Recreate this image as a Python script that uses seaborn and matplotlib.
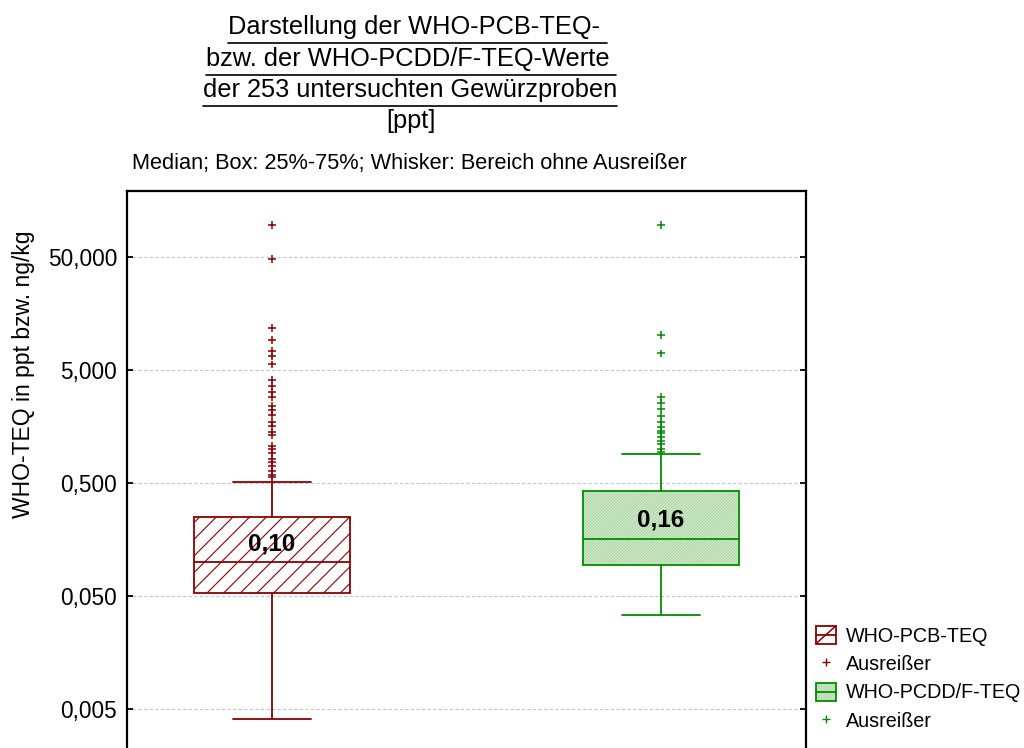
import numpy as np
import pandas as pd
import matplotlib
matplotlib.use("Agg")
import matplotlib.pyplot as plt
import matplotlib.colors as mcolors
from matplotlib.lines import Line2D
from matplotlib.patches import Rectangle
from matplotlib.legend_handler import HandlerBase
from matplotlib.ticker import FixedLocator, FuncFormatter, NullLocator
import seaborn as sns

# ---- data -----------------------------------------------------------------
groups = ["WHO-PCB-TEQ", "WHO-PCDD/F-TEQ"]
medians = [0.10, 0.16]
q1 = [0.053, 0.094]
q3 = [0.25, 0.425]
whisker_low = [0.0041, 0.034]
whisker_high = [0.51, 0.90]
outliers_pcb = [96.6, 48.0, 11.7, 9.2, 7.4, 6.6, 5.6, 4.1, 3.6, 3.2, 2.9, 2.4,
                2.2, 2.0, 1.72, 1.59, 1.40, 1.33, 1.06, 0.99, 0.92, 0.82, 0.76,
                0.70, 0.64, 0.59, 0.56]
outliers_pcdd = [96.6, 10.2, 7.0, 2.9, 2.57, 2.24, 1.96, 1.74, 1.57, 1.45,
                 1.38, 1.27, 1.18, 1.11, 1.01, 0.95]
y_ticks = [0.005, 0.05, 0.5, 5, 50]

title_lines = ["Darstellung der WHO-PCB-TEQ- ",
               "bzw. der WHO-PCDD/F-TEQ-Werte ",
               "der 253 untersuchten Gewürzproben"]
unit_line = "[ppt]"
subtitle = "Median; Box: 25%-75%; Whisker: Bereich ohne Ausreißer"
y_label = "WHO-TEQ in ppt bzw. ng/kg"
outlier_label = "Ausreißer"

# ---- style ----------------------------------------------------------------
RED = "#8c0000"
GREEN = "#008c00"
GREEN_FACE = "#d8eed4"
GREEN_HATCH = "#a9d4a1"

sns.set_theme(style="white")
plt.rcParams["font.family"] = ["Liberation Sans", "DejaVu Sans"]
plt.rcParams["text.color"] = "black"
plt.rcParams["axes.labelcolor"] = "black"
plt.rcParams["hatch.linewidth"] = 0.8

W, H = 1024, 748
fig = plt.figure(figsize=(W / 100, H / 100), dpi=100)
fig.patch.set_facecolor("white")

# axes frame in pixels: left 127, right 806, top 191, bottom 770 (below the canvas)
ax = fig.add_axes([127 / W, (H - 770) / H, (806 - 127) / W, (770 - 191) / H])
ax.set_facecolor("white")
ax.set_yscale("log")

# ---- boxes ------------------------------------------------------------------
stats = [
    {"med": m, "q1": a, "q3": b, "whislo": lo, "whishi": hi, "fliers": [],
     "label": g}
    for g, m, a, b, lo, hi in zip(groups, medians, q1, q3, whisker_low, whisker_high)
]
positions = np.arange(len(groups))
bp = ax.bxp(stats, positions=positions, widths=0.40, capwidths=0.20,
            patch_artist=True, showfliers=False, manage_ticks=False,
            boxprops=dict(linewidth=1.3),
            medianprops=dict(linewidth=1.3),
            whiskerprops=dict(linewidth=1.3),
            capprops=dict(linewidth=1.3))

edge_colors = [RED, GREEN]
face_colors = ["white", GREEN_FACE]
hatches = ["//", "/" * 11]
hatch_colors = [RED, GREEN_HATCH]
for i, box in enumerate(bp["boxes"]):
    box.set_facecolor(face_colors[i])
    box.set_edgecolor(edge_colors[i])
    box.set_hatch(hatches[i])
    if hasattr(box, "set_hatchcolor"):
        box.set_hatchcolor(hatch_colors[i])
    else:
        box._hatch_color = mcolors.to_rgba(hatch_colors[i])
    bp["medians"][i].set_color(edge_colors[i])
    for ln in bp["whiskers"][2 * i:2 * i + 2] + bp["caps"][2 * i:2 * i + 2]:
        ln.set_color(edge_colors[i])

# ---- outliers ---------------------------------------------------------------
fliers = pd.DataFrame({
    "Gruppe": [groups[0]] * len(outliers_pcb) + [groups[1]] * len(outliers_pcdd),
    "Wert": outliers_pcb + outliers_pcdd,
})
sns.stripplot(data=fliers, x="Gruppe", y="Wert", hue="Gruppe", order=groups,
              hue_order=groups, palette=edge_colors, marker="+", size=5.5,
              linewidth=1.1, jitter=False, legend=False, ax=ax, zorder=3)

# ---- median labels ------------------------------------------------------------
for pos, m in zip(positions, medians):
    ax.annotate(f"{m:.2f}".replace(".", ","), xy=(pos, m), xytext=(0, 5),
                textcoords="offset points", ha="center", va="bottom",
                fontsize=17.5, fontweight="bold", color="black", zorder=4)

# ---- axes -------------------------------------------------------------------
ax.set_xlim(-0.373, 1.373)
ax.set_ylim(0.001443, 191.9)
ax.set_xticks([])
ax.set_xlabel("")
ax.yaxis.set_major_locator(FixedLocator(y_ticks))
ax.yaxis.set_minor_locator(NullLocator())
ax.yaxis.set_major_formatter(FuncFormatter(lambda v, p: f"{v:.3f}".replace(".", ",")))
ax.tick_params(axis="y", direction="in", length=4, width=1.3, left=True,
               right=True, labelsize=16.3, pad=7, colors="black")
ax.yaxis.grid(True, color="#c4c4c4", linestyle=(0, (3, 2)), linewidth=0.8)
ax.xaxis.grid(False)
ax.set_axisbelow(True)
for sp in ax.spines.values():
    sp.set_visible(True)
    sp.set_color("black")
    sp.set_linewidth(1.6)

ax.set_ylabel(y_label, fontsize=16.5, color="black")
ax.yaxis.set_label_coords(-0.136, (770 - 374) / 579)


# ---- legend -------------------------------------------------------------------
class BoxKey:
    def __init__(self, face, edge, hatch, hatch_color, diagonal):
        self.face, self.edge, self.hatch = face, edge, hatch
        self.hatch_color, self.diagonal = hatch_color, diagonal


class BoxKeyHandler(HandlerBase):
    def create_artists(self, legend, orig, xdescent, ydescent, width, height,
                       fontsize, trans):
        x0, y0 = -xdescent, -ydescent
        rect = Rectangle((x0, y0), width, height, facecolor=orig.face,
                         edgecolor=orig.edge, linewidth=1.3, transform=trans)
        if orig.hatch:
            rect.set_hatch(orig.hatch)
            rect._hatch_color = mcolors.to_rgba(orig.hatch_color)
        arts = [rect]
        arts.append(Line2D([x0, x0 + width], [y0 + height / 2] * 2,
                           color=orig.edge, linewidth=1.3, transform=trans))
        if orig.diagonal:
            arts.append(Line2D([x0, x0 + width], [y0, y0 + height],
                               color=orig.edge, linewidth=1.1, transform=trans))
        return arts


handles = [
    BoxKey("white", RED, None, None, True),
    Line2D([], [], marker="+", linestyle="none", color=RED, markersize=5.5,
           markeredgewidth=1.0),
    BoxKey(GREEN_FACE, GREEN, "/" * 11, GREEN_HATCH, False),
    Line2D([], [], marker="+", linestyle="none", color=GREEN, markersize=5.5,
           markeredgewidth=1.0),
]
labels = [groups[0], outlier_label, groups[1], outlier_label]
fig.legend(handles, labels, handler_map={BoxKey: BoxKeyHandler()},
           loc="upper left", bbox_to_anchor=(816 / W, 1 - 626 / H),
           frameon=False, fontsize=14.2, handlelength=1.0, handleheight=1.0,
           handletextpad=0.5, labelspacing=0.45, borderpad=0,
           borderaxespad=0, labelcolor="black")

# ---- titles -------------------------------------------------------------------
title_centers = [417, 411, 410]
title_baselines = [34, 66, 97]
title_texts = []
for line, xc, yb in zip(title_lines, title_centers, title_baselines):
    t = fig.text(xc / W, 1 - yb / H, line, ha="center", va="baseline",
                 fontsize=18.3, color="black")
    title_texts.append((t, yb))
fig.text(411 / W, 1 - 128 / H, unit_line, ha="center", va="baseline",
         fontsize=18.3, color="black")
fig.text(409 / W, 1 - 169 / H, subtitle, ha="center", va="baseline",
         fontsize=15.7, color="black")

# underline the three title lines
fig.canvas.draw()
renderer = fig.canvas.get_renderer()
for t, yb in title_texts:
    bb = t.get_window_extent(renderer)
    yu = 1 - (yb + 9) / H
    fig.add_artist(Line2D([bb.x0 / W, bb.x1 / W], [yu, yu],
                          transform=fig.transFigure, color="black",
                          linewidth=1.2))

fig.savefig("out.png", dpi=100, facecolor="white")
